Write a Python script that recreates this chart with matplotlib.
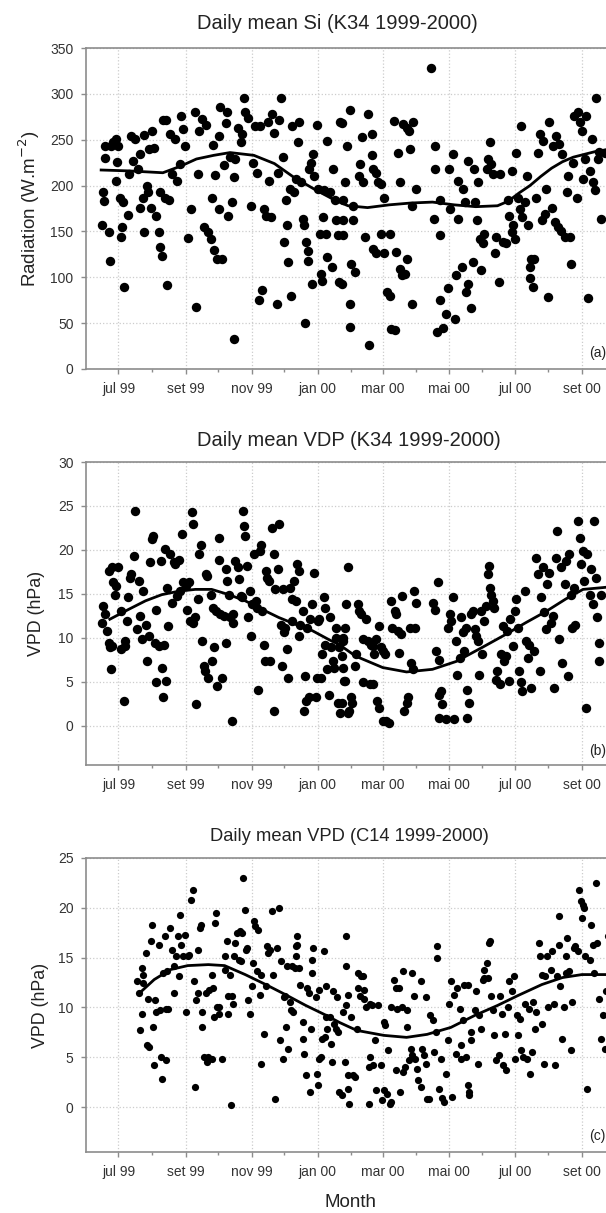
import datetime as dt
import numpy as np
import matplotlib
matplotlib.use("Agg")
import matplotlib.pyplot as plt
import matplotlib.dates as mdates

plt.rcParams["font.family"] = ["Liberation Sans", "DejaVu Sans"]

# day offsets are counted from 1 jul 1999
start = dt.date(1999, 7, 1)

# (day, W/m2) daily mean global radiation, K34
si_pts = [
    (-12, 243), (-12, 230), (-14, 193), (-13, 183), (-15, 157), (-9, 149), (-8, 118), (-7, 243),
    (-5, 247), (-2, 251), (0, 243), (-1, 226), (-2, 205), (1, 187), (4, 182), (3, 155), (2, 144),
    (5, 89), (9, 168), (10, 213), (12, 254), (13, 227), (15, 251), (18, 218), (20, 234), (20, 176),
    (23, 187), (24, 149), (24, 255), (26, 200), (27, 193), (28, 240), (30, 176), (31, 260), (33, 241),
    (35, 167), (37, 149), (38, 193), (38, 133), (40, 123), (41, 272), (45, 92), (43, 186), (44, 271),
    (48, 256), (47, 184), (49, 213), (52, 251), (54, 205), (57, 224), (58, 276), (60, 262), (61, 243),
    (64, 143), (67, 175), (71, 280), (72, 68), (73, 213), (74, 259), (77, 273), (79, 155), (81, 266),
    (83, 149), (85, 142), (86, 186), (87, 244), (88, 130), (89, 212), (91, 120), (93, 175), (93, 254),
    (94, 286), (96, 120), (97, 222), (99, 268), (100, 280), (101, 167), (103, 231), (105, 182),
    (107, 33), (107, 209), (108, 229), (110, 263), (113, 247), (114, 256), (116, 296), (117, 280),
    (120, 274), (122, 178), (124, 225), (126, 265), (128, 214), (130, 75), (131, 265), (133, 86),
    (134, 175), (136, 167), (138, 269), (139, 205), (141, 166), (142, 278), (144, 257), (146, 71),
    (147, 214), (148, 271), (150, 296), (152, 231), (153, 138), (155, 184), (156, 157), (157, 117),
    (158, 196), (159, 80), (160, 265), (162, 193), (164, 207), (166, 247), (167, 269), (169, 204),
    (170, 164), (171, 157), (172, 50), (173, 138), (175, 129), (175, 118), (176, 218), (178, 225),
    (179, 93), (180, 234), (181, 211), (183, 266), (184, 196), (186, 147), (187, 104), (188, 96),
    (189, 166), (190, 195), (192, 147), (193, 249), (193, 122), (195, 193), (197, 111), (198, 218),
    (200, 184), (201, 162), (203, 146), (204, 95), (205, 269), (207, 184),
    (206, 268), (211, 243), (209, 204), (207, 162), (207, 146), (206, 93), (214, 71), (214, 46),
    (214, 282), (217, 178), (217, 162), (215, 115), (218, 106), (222, 211), (223, 224), (225, 253),
    (226, 204), (228, 144), (231, 26), (230, 278), (234, 256), (234, 233), (235, 218), (238, 214),
    (240, 204), (242, 202), (245, 186), (248, 84), (251, 80), (252, 44), (254, 270), (255, 42),
    (251, 147), (242, 147), (235, 131), (238, 126), (245, 126), (258, 236), (260, 204), (262, 102),
    (263, 267), (266, 263), (268, 260), (269, 240), (271, 178), (272, 269), (275, 196), (271, 71),
    (266, 120), (265, 104), (260, 109), (256, 128), (289, 328), (292, 243), (291, 164), (292, 218),
    (297, 146), (297, 184), (297, 75), (294, 40), (300, 45), (302, 60), (304, 88), (305, 218),
    (306, 175), (309, 234), (311, 55), (312, 102), (314, 205), (314, 164), (317, 111), (318, 196),
    (320, 182), (321, 84), (323, 93), (323, 227), (326, 66), (327, 117), (328, 218), (329, 182),
    (331, 162), (332, 204), (334, 142), (335, 108), (337, 137), (338, 147), (340, 218), (341, 229),
    (343, 247), (344, 224), (346, 213), (348, 126), (349, 144), (351, 95), (352, 213), (355, 138),
    (358, 137), (360, 184), (361, 167), (363, 149), (363, 216), (364, 157), (366, 142), (367, 236),
    (369, 187), (371, 175), (372, 265), (373, 166), (375, 182), (377, 211), (378, 157), (380, 111),
    (380, 99), (381, 120), (383, 89), (384, 120), (386, 186), (387, 236), (389, 256), (391, 162),
    (392, 249), (394, 169), (395, 196), (397, 79), (398, 269), (400, 176), (401, 243), (403, 160),
    (404, 254), (406, 155), (407, 245), (409, 151), (410, 234), (412, 144), (414, 193), (415, 211),
    (417, 144), (418, 115), (420, 225), (421, 276), (423, 186), (424, 280), (426, 269), (428, 260),
    (429, 207), (431, 229), (432, 276), (434, 77), (435, 216), (437, 251), (438, 204), (440, 195),
    (441, 296), (443, 229), (444, 237), (446, 164), (449, 236),
]
si_curve = [
    (-16, 217), (10, 216), (41, 214), (57, 221), (72, 229), (88, 233), (103, 236), (125, 233),
    (144, 224), (162, 209), (181, 196), (200, 184), (212, 178), (230, 176), (250, 179), (270, 181),
    (290, 182), (310, 179), (330, 177), (350, 178), (360, 183), (370, 192), (380, 200), (390, 210),
    (400, 219), (410, 226), (420, 231), (430, 234), (440, 237), (455, 240),
]

# (day, hPa) daily mean vapour pressure deficit, K34
vpd_k34_pts = [
    (-15, 11.7), (-14, 13.6), (-12, 12.7), (-11, 10.8), (-9, 9.4), (-8, 8.9), (-7, 6.4), (-6, 9.0),
    (-9, 17.6), (-6, 18.0), (-5, 16.3), (-3, 14.9), (-2, 15.9), (0, 18.0), (2, 13.0), (2, 8.7),
    (5, 2.8), (6, 9.6), (6, 9.0), (8, 11.9), (9, 14.6), (11, 16.8), (12, 17.2), (14, 19.3), (15, 24.4),
    (17, 11.0), (19, 16.5), (20, 12.5), (22, 9.8), (23, 15.3), (25, 11.5), (26, 7.3), (28, 10.2),
    (29, 18.6), (31, 21.2), (32, 21.6), (34, 9.4), (35, 4.9), (35, 13.2), (37, 9.0), (39, 18.7),
    (40, 6.6), (41, 3.2), (42, 9.2), (43, 20.1), (44, 5.1), (45, 15.7), (46, 11.3), (48, 19.5),
    (49, 14.0), (51, 18.6), (52, 18.4), (54, 14.8), (56, 18.9), (57, 15.3), (59, 21.8), (60, 16.3),
    (62, 15.9), (63, 13.2), (65, 16.3), (66, 11.9), (68, 24.3), (69, 22.9), (69, 11.7), (71, 12.3),
    (72, 2.4), (73, 14.4), (74, 19.5), (76, 20.6), (77, 9.6), (79, 6.8), (80, 6.2), (81, 17.2),
    (82, 17.0), (83, 5.4), (85, 14.9), (86, 7.3), (87, 13.4), (88, 8.9), (90, 13.0), (91, 4.5),
    (93, 18.9), (93, 21.4), (94, 12.7), (96, 5.4), (97, 12.5), (99, 9.4), (99, 17.8), (100, 16.5),
    (102, 14.9), (103, 12.3), (105, 0.5), (106, 11.7), (106, 12.7), (108, 18.7), (110, 18.0),
    (111, 16.7), (113, 14.8), (114, 14.6), (115, 24.4), (116, 22.7), (117, 21.6), (119, 18.2),
    (120, 12.3), (121, 15.3), (122, 10.2), (123, 13.8), (125, 19.5), (127, 14.2), (128, 13.4),
    (129, 4.1), (131, 19.9), (132, 20.6), (133, 13.0), (134, 9.2), (135, 7.3), (136, 17.6),
    (137, 16.8), (139, 16.5), (140, 7.3), (142, 22.5), (144, 19.5), (144, 1.6), (145, 15.5),
    (147, 17.8), (148, 22.9), (150, 11.5), (151, 6.8), (152, 15.5), (153, 10.6), (154, 11.1),
    (156, 8.7), (157, 5.4), (158, 15.7), (160, 11.9), (160, 14.4), (162, 16.5), (164, 14.2),
    (165, 18.4), (167, 17.6), (167, 10.2), (168, 11.5), (170, 13.0), (171, 1.6), (172, 5.6),
    (173, 2.8), (174, 11.1), (176, 3.2), (177, 12.1), (179, 13.8), (181, 17.4), (182, 3.2),
    (183, 5.4), (184, 11.9), (185, 12.1), (187, 5.4), (188, 8.1), (190, 14.6), (191, 9.2),
    (191, 13.4), (193, 6.4), (194, 3.5), (195, 12.3), (196, 8.9), (198, 7.3), (199, 6.6),
    (201, 10.0), (201, 11.1), (203, 2.6), (204, 8.9), (205, 1.4), (207, 9.6), (208, 5.1),
    (212, 18.0), (210, 13.8), (209, 11.1), (207, 10.0), (206, 7.9), (207, 6.6), (209, 5.1), (206, 2.6),
    (212, 1.4), (213, 1.6), (215, 3.2), (216, 2.6), (218, 6.8), (219, 8.1), (221, 13.8), (222, 13.0),
    (224, 12.7), (226, 9.8), (226, 4.9), (229, 12.1), (230, 9.6), (232, 4.7), (233, 9.2), (235, 9.0),
    (235, 4.7), (236, 8.1), (238, 9.8), (239, 2.8), (241, 11.3), (242, 8.9), (244, 8.5), (246, 8.1),
    (241, 2.0), (244, 0.5), (247, 0.5), (250, 0.3), (252, 14.2), (253, 11.1), (255, 13.0),
    (256, 12.7), (258, 10.8), (259, 8.3), (261, 10.4), (262, 14.8), (264, 1.6), (266, 2.6),
    (267, 3.2), (269, 11.1), (270, 7.1), (272, 6.4), (273, 15.3), (274, 11.1), (275, 14.0),
    (290, 14.0), (292, 13.2), (293, 8.5), (295, 16.3), (296, 7.5), (296, 3.5), (298, 3.9),
    (299, 2.4), (296, 0.9), (302, 0.7), (309, 14.6), (310, 0.7), (304, 11.1), (306, 12.7),
    (307, 11.9), (312, 9.6), (313, 5.8), (315, 7.7), (316, 12.3), (318, 10.6), (319, 8.5),
    (321, 11.1), (322, 4.1), (324, 2.6), (322, 0.9), (326, 12.7), (327, 13.0), (329, 11.0),
    (330, 10.2), (332, 9.6), (333, 5.8), (335, 13.0), (336, 8.1), (338, 11.9), (339, 13.6),
    (341, 17.2), (342, 18.2), (343, 15.7), (344, 14.9), (346, 14.2), (347, 13.4), (349, 5.2),
    (350, 6.2), (352, 4.7), (353, 8.1), (355, 11.3), (356, 7.3), (358, 7.9), (359, 10.8), (361, 5.1),
    (362, 12.1), (364, 9.0), (366, 13.0), (367, 14.4), (369, 11.1), (370, 6.2), (372, 4.9),
    (373, 3.9), (375, 15.3), (376, 9.6), (378, 7.7), (379, 9.2), (381, 4.3), (384, 8.5), (386, 19.1),
    (387, 17.2), (389, 6.2), (390, 14.6), (392, 18.0), (393, 12.9), (395, 11.0), (396, 16.1),
    (398, 17.4), (399, 11.7), (401, 12.5), (402, 4.3), (404, 19.1), (405, 22.2), (407, 9.8),
    (409, 18.0), (410, 7.1), (412, 16.1), (413, 18.7), (415, 5.6), (416, 19.5), (418, 14.9),
    (419, 11.1), (421, 15.7), (422, 11.5), (424, 23.3), (426, 21.4), (427, 18.4), (429, 19.9),
    (430, 16.5), (432, 2.0), (433, 19.5), (435, 14.9), (436, 17.8), (438, 13.8), (439, 23.3),
    (441, 16.8), (442, 12.3), (444, 9.4), (444, 7.3), (446, 14.9),
]
vpd_k34_curve = [
    (-8, 12.1), (9, 13.2), (25, 14.2), (40, 14.9), (56, 15.3), (71, 15.5), (86, 15.5), (102, 14.9),
    (117, 14.2), (133, 13.2), (148, 12.3), (164, 11.5), (179, 10.8), (194, 9.8), (204, 9.2),
    (219, 7.9), (244, 6.6), (266, 6.1), (290, 6.4), (312, 7.3), (336, 8.9), (358, 10.4),
    (376, 11.7), (395, 13.0), (413, 14.4), (429, 15.5), (447, 15.7), (455, 15.8),
]

# (day, hPa) daily mean vapour pressure deficit, C14
vpd_c14_pts = [
    (17, 12.7), (19, 11.5), (20, 7.7), (22, 14.0), (23, 13.3), (22, 9.3), (23, 12.5), (25, 15.5),
    (26, 6.2), (27, 10.8), (28, 6.0), (31, 18.3), (30, 16.7), (32, 8.0), (33, 4.2), (34, 10.7),
    (35, 9.5), (37, 16.3), (38, 9.7), (39, 5.0), (40, 2.8), (41, 13.5), (43, 17.2), (44, 4.7),
    (44, 9.8), (45, 13.7), (46, 9.8), (48, 18.0), (49, 15.8), (51, 14.2), (51, 11.5), (53, 15.2),
    (55, 17.2), (56, 13.2), (57, 19.3), (58, 16.3), (60, 15.2), (61, 17.3), (62, 9.5), (64, 15.2),
    (65, 15.3), (67, 20.8), (69, 21.8), (70, 12.7), (71, 2.0), (72, 10.7), (73, 11.5), (73, 15.8),
    (75, 18.0), (76, 18.3), (77, 9.5), (77, 8.0), (79, 5.0), (81, 11.5), (82, 4.5), (83, 5.0),
    (84, 11.8), (86, 4.8), (86, 13.3), (87, 12.0), (88, 9.0), (89, 18.5), (90, 19.5), (91, 10.0),
    (93, 9.3), (93, 10.0), (96, 4.8), (98, 15.2), (98, 13.8), (100, 16.7), (101, 9.3), (101, 11.2),
    (103, 13.3), (104, 0.2), (105, 11.2), (106, 10.3), (107, 15.2), (108, 16.5), (109, 17.5),
    (111, 14.8), (112, 17.7), (113, 14.7), (114, 17.5), (115, 23.0), (117, 19.8), (118, 15.8),
    (119, 16.0), (120, 10.7), (121, 9.3), (123, 12.2), (124, 14.5), (125, 18.7), (126, 18.2),
    (128, 13.7), (129, 17.8), (131, 11.3), (132, 13.3), (132, 4.3), (134, 7.3), (136, 12.2),
    (137, 16.2), (138, 15.5), (140, 15.8), (142, 19.7), (143, 13.3), (145, 0.8), (146, 16.0),
    (148, 20.0), (149, 6.7), (150, 14.7), (152, 4.8), (153, 11.0), (154, 11.2), (155, 8.0),
    (156, 14.2), (157, 5.8), (158, 10.5), (159, 9.7), (160, 14.2), (161, 9.5), (163, 14.0),
    (164, 15.2), (164, 16.2), (165, 16.3), (165, 17.2), (167, 14.0), (168, 12.3), (170, 8.5),
    (170, 6.8), (171, 5.3), (173, 3.2), (174, 12.0), (176, 11.5), (177, 1.5), (178, 7.8), (179, 13.5),
    (179, 14.8), (180, 16.0), (182, 11.0), (183, 3.3), (184, 2.2), (185, 4.8), (185, 11.8), (187, 5.0),
    (188, 6.8), (190, 15.7), (191, 7.0), (192, 9.0), (192, 12.2), (193, 7.8), (195, 9.0), (196, 6.3),
    (197, 4.5), (198, 11.7), (199, 8.3), (201, 7.8), (202, 11.0), (203, 7.5), (204, 1.5), (206, 1.2),
    (207, 9.5), (209, 4.5), (210, 17.2), (210, 14.2), (210, 10.2), (212, 3.2),
    (212, 11.3), (212, 1.8), (213, 0.3), (215, 9.0), (217, 3.2), (218, 3.0), (220, 7.8), (221, 12.0),
    (221, 13.5), (223, 11.2), (224, 13.2), (226, 13.2), (227, 11.8), (227, 10.8), (229, 10.0),
    (231, 0.3), (231, 4.0), (232, 10.3), (232, 5.0), (234, 10.2), (235, 4.2), (237, 6.7), (238, 1.7),
    (240, 10.2), (242, 4.2), (243, 0.7), (245, 1.7), (245, 8.5), (246, 8.2), (248, 1.3), (249, 5.7),
    (251, 0.3), (252, 0.5), (252, 10.0), (254, 12.8), (256, 12.0), (256, 3.7), (257, 9.8), (259, 12.0),
    (260, 1.5), (262, 10.0), (263, 3.5), (263, 13.7), (265, 4.0), (266, 9.7), (266, 8.0), (268, 4.7),
    (270, 5.8), (271, 13.5), (271, 5.2), (273, 11.2), (274, 4.8), (276, 3.8), (277, 2.7), (279, 12.7),
    (279, 2.0), (280, 5.8), (282, 5.2), (284, 11.0), (284, 4.3), (285, 0.8), (287, 0.8), (288, 9.2),
    (290, 8.7), (291, 5.5), (293, 7.5), (294, 16.2), (294, 15.0), (296, 1.8), (298, 4.8), (299, 0.9),
    (301, 0.5), (302, 3.3), (304, 6.7), (305, 10.3), (307, 12.7), (308, 1.0), (310, 11.3), (312, 5.3),
    (313, 12.0), (315, 9.8), (316, 6.2), (316, 4.8), (318, 8.7), (319, 12.3), (321, 5.0), (323, 12.3),
    (323, 2.2), (324, 1.5), (324, 1.2), (326, 6.7), (326, 7.5), (329, 9.7), (330, 11.7), (332, 4.3),
    (333, 9.2), (335, 7.8), (337, 12.8), (338, 13.0), (338, 13.8), (340, 14.5), (341, 13.0),
    (342, 16.5), (343, 16.7), (344, 11.2), (346, 9.7), (347, 7.2), (349, 4.7), (351, 5.2), (352, 11.2),
    (354, 9.3), (355, 4.2), (357, 7.3), (358, 3.7), (360, 10.0), (361, 12.7), (363, 11.7), (365, 13.2),
    (366, 4.8), (368, 9.2), (369, 7.2), (371, 8.8), (372, 5.7), (374, 5.0), (375, 10.3), (377, 4.8),
    (379, 9.8), (380, 3.3), (382, 5.5), (383, 10.5), (385, 7.8), (386, 9.5), (388, 16.5), (389, 15.2),
    (391, 13.3), (391, 8.3), (393, 4.3), (394, 13.2), (396, 15.2), (397, 10.0), (399, 13.8),
    (400, 15.7), (402, 10.3), (403, 4.2), (405, 13.2), (407, 16.3), (407, 19.2), (408, 12.2),
    (410, 6.8), (411, 10.0), (413, 13.5), (413, 15.2), (414, 17.0), (416, 13.7), (418, 5.7),
    (419, 10.5), (421, 16.0), (422, 16.2), (424, 15.7), (425, 21.8), (427, 20.7), (428, 19.0),
    (429, 20.3), (430, 20.0), (431, 15.2), (433, 1.8), (435, 14.8), (436, 18.3), (438, 16.3),
    (439, 13.5), (441, 22.5), (442, 16.5), (444, 10.8), (446, 6.8), (447, 9.2), (449, 5.8),
    (450, 11.7), (452, 17.2),
]
vpd_c14_curve = [
    (20, 11.5), (33, 12.8), (48, 13.8), (64, 14.2), (83, 14.3), (98, 14.2), (117, 13.3), (136, 12.3),
    (154, 11.3), (173, 10.2), (192, 9.2), (204, 8.5), (220, 7.7), (245, 7.2), (266, 7.0), (285, 7.3),
    (307, 8.0), (329, 9.2), (350, 10.2), (369, 11.2), (391, 12.3), (410, 13.0), (428, 13.3),
    (455, 13.3),
]

tick_dates = [dt.date(1999, 7, 1), dt.date(1999, 9, 1), dt.date(1999, 11, 1), dt.date(2000, 1, 1),
              dt.date(2000, 3, 1), dt.date(2000, 5, 1), dt.date(2000, 7, 1), dt.date(2000, 9, 1)]
tick_labels = ["jul 99", "set 99", "nov 99", "jan 00", "mar 00", "mai 00", "jul 00", "set 00"]

panels = [
    dict(pts=si_pts, curve=si_curve, title="Daily mean Si (K34 1999-2000)", title_size=14.5,
         ylabel="Radiation (W.m$^{-2}$)", ylabel_size=13.5, ylim=(0, 350), yticks=range(0, 351, 50),
         tag="(a)", tag_y=17, size=46, rect=[0.1419, 0.6958, 0.9274, 0.2646],
         title_xy=(0.556, 0.981), ylab_x=0.048),
    dict(pts=vpd_k34_pts, curve=vpd_k34_curve, title="Daily mean VDP (K34 1999-2000)", title_size=14.5,
         ylabel="VPD (hPa)", ylabel_size=12.8, ylim=(-4.5, 30), yticks=range(0, 31, 5),
         tag="(b)", tag_y=-2.9, size=46, rect=[0.1419, 0.3693, 0.9274, 0.2498],
         title_xy=(0.576, 0.637), ylab_x=0.060),
    dict(pts=vpd_c14_pts, curve=vpd_c14_curve, title="Daily mean VPD (C14 1999-2000)", title_size=13.2,
         ylabel="VPD (hPa)", ylabel_size=12.8, ylim=(-4.5, 25), yticks=range(0, 26, 5),
         tag="(c)", tag_y=-2.9, size=27, rect=[0.1419, 0.0503, 0.9274, 0.2424],
         title_xy=(0.576, 0.310), ylab_x=0.067),
]

fig = plt.figure(figsize=(6.06, 12.13), dpi=100)
t0 = mdates.date2num(start)
spine_col = "#8c8c8c"

for p in panels:
    ax = fig.add_axes(p["rect"])
    d, v = np.array(p["pts"], dtype=float).T
    cd, cv = np.array(p["curve"], dtype=float).T
    ax.scatter(t0 + d, v, s=p["size"], color="black", linewidths=0, zorder=3)
    ax.plot(t0 + cd, cv, color="black", lw=2.0, zorder=4)

    ax.set_xlim(mdates.date2num(dt.date(1999, 6, 1)), mdates.date2num(dt.date(2000, 11, 1)))
    ax.set_ylim(*p["ylim"])
    ax.set_xticks(mdates.date2num(tick_dates))
    ax.set_xticklabels(tick_labels)
    minor = [dt.date(1999 + (m - 1) // 12, (m - 1) % 12 + 1, 1) for m in range(8, 22, 2)]
    ax.set_xticks(mdates.date2num(minor), minor=True)
    ax.set_yticks(list(p["yticks"]))

    ax.grid(True, which="major", color="#cccccc", linestyle=":", lw=0.9)
    ax.set_axisbelow(True)
    for s in ax.spines.values():
        s.set_color(spine_col)
        s.set_linewidth(1.2)
    ax.tick_params(axis="both", which="major", length=3.5, width=1, color=spine_col,
                   labelsize=10, labelcolor="#333333", pad=5.5)
    ax.tick_params(axis="x", which="major", pad=6)
    ax.tick_params(axis="x", which="minor", length=2.5, width=1, color=spine_col)

    # axis title, centred on the plot area
    pos = ax.get_position()
    fig.text(p["ylab_x"], (pos.y0 + pos.y1) / 2, p["ylabel"], rotation=90, ha="center", va="center",
             fontsize=p["ylabel_size"], color="#222222")
    fig.text(*p["title_xy"], p["title"], ha="center", va="center", fontsize=p["title_size"],
             color="#222222")
    ax.text(mdates.date2num(dt.date(2000, 9, 8)), p["tag_y"], p["tag"], ha="left", va="center",
            fontsize=10, color="#222222")

fig.text(0.579, 0.0085, "Month", ha="center", va="center", fontsize=13.5, color="#222222")

fig.savefig("out.png", dpi=100)
